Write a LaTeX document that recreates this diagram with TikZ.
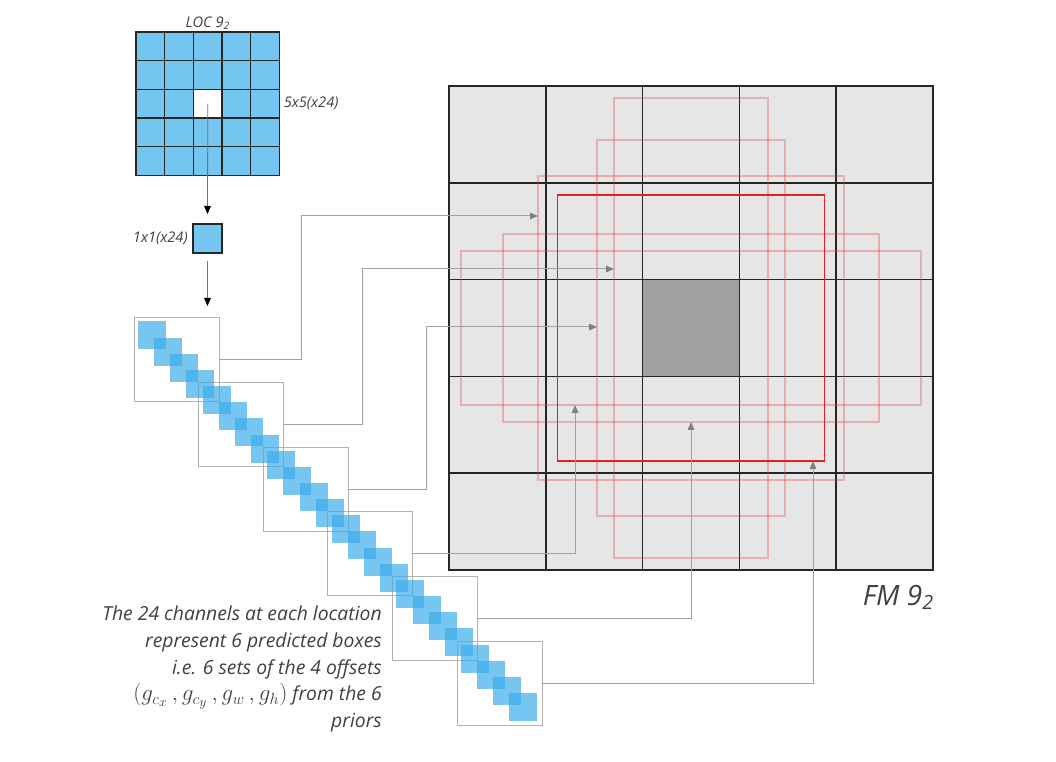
\documentclass[tikz,border=0pt]{standalone}
\usepackage{fontspec}
\setmainfont{Open Sans}
\usepackage{tikz}
\usetikzlibrary{positioning,arrows.meta}
\definecolor{chanblue}{HTML}{3DADEB}
\definecolor{locblue}{HTML}{75C6F0}
\definecolor{fmgray}{HTML}{E6E6E6}
\definecolor{fmdark}{HTML}{A0A0A0}
\definecolor{linkgray}{HTML}{A0A0A0}
\definecolor{priorred}{HTML}{E63C3C}
\definecolor{boxred}{HTML}{E02222}
\definecolor{txtgray}{HTML}{404040}
\tikzset{
  loccell/.style={draw=black!85, line width=1pt, fill=locblue, minimum size=21.5pt, inner sep=0pt, outer sep=0pt},
  fmcell/.style={draw=black!85, line width=1.1pt, fill=fmgray, minimum size=72.6pt, inner sep=0pt, outer sep=0pt},
  chan/.style={fill=chanblue, fill opacity=0.7, minimum size=21pt, inner sep=0pt},
  grp/.style={draw=black!30, line width=0.75pt, minimum width=63.75pt, minimum height=63pt, inner sep=0pt, outer sep=0pt},
  prior/.style={draw=priorred, draw opacity=0.32, line width=1.5pt, inner sep=0pt, outer sep=0pt},
  feed/.style={draw=black!55, line width=0.6pt, -{Triangle[length=6pt,width=5pt,color=black]}},
  link/.style={draw=linkgray, line width=0.75pt, -{Triangle[length=6pt,width=5pt,color=black!50]}},
  lbl/.style={font=\fontsize{11}{13}\selectfont\itshape, text=txtgray, inner sep=0pt}
}
\newcommand{\offsets}{{\fontsize{17.28}{20}\selectfont$(g_{c_x}\,, g_{c_y}\,, g_w\,, g_h)$}}

\begin{document}
\begin{tikzpicture}[x=0.75pt,y=-0.75pt]
  \useasboundingbox (0,0) rectangle (1056,762);

  \foreach \r in {0,...,4}
    \foreach \c in {0,...,4}
      \node[loccell] (l\r\c) at (150.35+28.7*\c, 46.35+28.7*\r) {};
  \node[loccell, fill=white] (lmid) at (l22) {};
  \node[lbl, anchor=base] (loctitle) at ([yshift=3.75pt]l02.north) {LOC 9\textsubscript{2}};
  \node[lbl, right=3pt of l24] (locsize) {5x5(x24)};

  \node[loccell, minimum size=21.75pt] (one) at (207.5,238.5) {};
  \node[lbl, left=3.75pt of one] (onesize) {1x1(x24)};

  \foreach \r in {0,...,4}
    \foreach \c in {0,...,4}
      \node[fmcell] (f\r\c) at (497.4+96.8*\c, 134.4+96.8*\r) {};
  \node[fmcell, fill=fmdark] (fmid) at (f22) {};

  \node[prior, minimum width=115.5pt, minimum height=345pt] (ptall) at (fmid) {};
  \node[prior, minimum width=141pt, minimum height=282pt] (pnarrow) at (fmid) {};
  \node[prior, minimum width=229.5pt, minimum height=228pt] (psquare) at (fmid) {};
  \node[prior, minimum width=282pt, minimum height=141pt] (pwide) at (fmid) {};
  \node[prior, minimum width=345pt, minimum height=115.5pt] (pflat) at (fmid) {};
  \node[prior, draw=boxred, draw opacity=1, line width=1.2pt, minimum width=200.25pt, minimum height=199.5pt] (pbest) at (fmid) {};
  \node[font=\fontsize{21}{24}\selectfont\itshape, text=txtgray, inner sep=0pt, anchor=base east] (fmtitle) at (934,605) {FM 9\textsubscript{2}};

  \foreach \k in {0,...,5}
    \node[grp] (g\k) at (176.5+64.6*\k, 360+64.6*\k) {};
  \foreach \i in {0,...,23}
    \node[chan] (ch\i) at (152+16.15*\i, 335.5+16.15*\i) {};

  \draw[feed, shorten >=7.5pt] (lmid.center) -- (one.north);
  \draw[feed, shorten <=6pt, shorten >=9pt] (one.south) -- (one.south |- g0.north);

  \draw[link] (g0.east) -- ++(82,0) |- (psquare.west |- 0,216);
  \draw[link] (g1.east) -- ++(78.5,0) |- (ptall.west |- 0,269);
  \draw[link] (g2.east) -- ++(78,0) |- (pnarrow.west |- 0,327);
  \draw[link] (g3.east) -| (pflat.south -| 575,0);
  \draw[link] (g4.east) -| (pwide.south);
  \draw[link] (g5.east) -| (pbest.south -| 813,0);

  \node[font=\fontsize{14.5}{20}\selectfont\itshape, text=txtgray, inner sep=0pt, align=right, anchor=north east] (note) at (382,606)
    {The 24 channels at each location\\represent 6 predicted boxes\\i.e. 6 sets of the 4 offsets\\\offsets{} from the 6\\priors};
\end{tikzpicture}
\end{document}
